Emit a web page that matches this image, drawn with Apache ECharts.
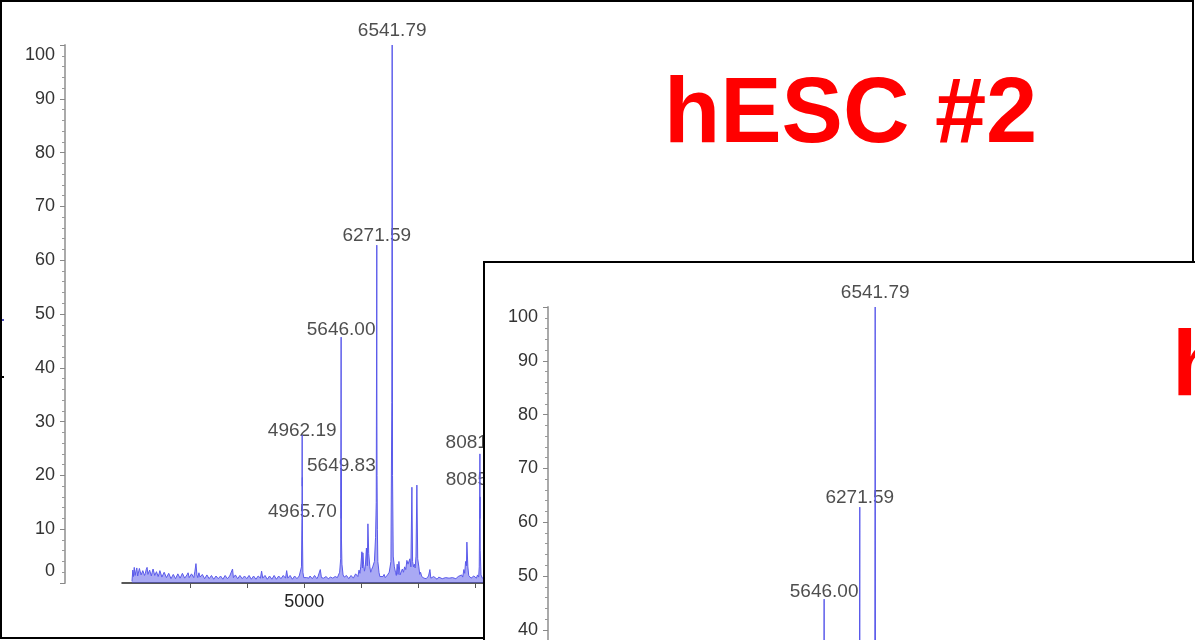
<!DOCTYPE html>
<html><head><meta charset="utf-8">
<script src="https://cdn.jsdelivr.net/npm/echarts@6/dist/echarts.min.js"></script>
<style>html,body{margin:0;padding:0;background:#fff;overflow:hidden}#c{width:1195px;height:640px}</style>
</head><body><div id="c"></div>
<script>
// Mass spectrum profile: [m/z, relative intensity]
const spectrum = [
[1975,0.3],[1990,2.4],[2000,1.2],[2015,2.9],[2030,1.4],[2045,2.2],[2060,2.8],[2075,1.3],[2090,1.6],[2105,2.7],[2120,2.4],[2135,1.5],[2150,1.2],[2165,2.3],[2180,2.6],[2195,1.4],[2210,1.8],[2225,2.5],[2240,2.9],[2255,1.6],
[2270,1.5],[2285,2.4],[2300,2.5],[2315,1.3],[2330,2.0],[2345,2.6],[2360,2.7],[2375,1.4],[2390,1.3],[2405,2.1],[2420,2.2],[2435,1.2],[2450,1.7],[2465,2.3],[2480,2.0],[2500,1.1],[2520,1.2],[2540,2.0],[2560,1.8],[2580,1.0],
[2600,1.0],[2620,1.8],[2640,1.5],[2660,0.8],[2680,0.9],[2700,1.6],[2720,1.4],[2740,0.8],[2760,1.0],[2780,1.7],[2800,1.6],[2820,0.9],[2840,1.1],[2860,1.8],[2880,1.7],[2900,0.9],[2920,1.0],[2940,1.5],[2960,1.9],[2980,1.0],
[3000,1.2],[3020,1.7],[3040,1.6],[3060,1.0],[3080,2.2],[3098,3.6],[3115,1.5],[3130,1.0],[3150,1.9],[3170,1.1],[3190,1.0],[3210,1.6],[3230,1.4],[3250,0.8],[3270,0.9],[3290,1.5],[3310,1.3],[3330,0.8],
[3350,0.8],[3370,1.4],[3390,1.2],[3410,0.7],[3430,0.9],[3450,1.3],[3470,1.5],[3490,0.8],[3510,0.8],[3530,1.3],[3550,1.1],[3570,0.7],[3590,0.9],[3610,1.4],[3630,1.3],[3650,0.8],[3670,0.8],[3690,1.3],[3710,1.2],
[3740,2.6],[3755,1.0],[3770,1.0],[3790,1.5],[3810,1.3],[3830,0.8],[3850,0.8],[3870,1.4],[3890,1.2],[3910,0.8],[3930,1.0],[3950,1.3],[3970,1.6],[3990,0.8],[4010,0.9],[4030,1.4],[4050,1.3],[4070,0.7],[4090,0.8],
[4110,1.3],[4130,1.2],[4150,0.7],[4170,0.9],[4190,1.3],[4210,1.4],[4230,0.9],[4250,2.2],[4270,0.9],[4290,1.0],[4310,1.4],[4330,1.2],[4350,0.7],[4370,0.8],[4390,1.3],[4410,1.1],[4430,0.7],[4450,0.9],[4470,1.4],[4490,1.3],
[4510,0.7],[4530,0.8],[4550,1.3],[4570,1.2],[4590,0.8],[4610,1.0],[4630,1.4],[4650,1.5],[4670,0.9],[4690,2.3],[4710,0.9],[4730,1.0],[4750,1.4],[4770,1.1],[4790,0.7],[4810,0.8],[4830,1.3],[4850,1.2],[4870,0.8],[4890,1.0],
[4910,1.3],[4930,1.5],[4950,3.0],[4958,12],[4962.19,27.5],[4964,18],[4965.7,19.6],[4968,8],[4975,2.0],[4990,1.0],[5000,1.2],[5020,1.3],[5040,1.0],[5060,0.7],
[5080,0.9],[5100,1.3],[5120,1.3],[5140,0.8],[5160,0.8],[5180,1.4],[5200,1.2],[5220,0.8],[5240,1.2],[5260,1.0],[5280,2.5],[5300,1.0],[5320,1.3],[5340,0.9],[5360,0.8],[5380,1.2],[5400,1.3],[5420,0.8],
[5440,1.0],[5460,1.1],[5480,1.4],[5500,0.9],[5520,0.8],[5540,1.2],[5560,1.3],[5580,1.0],[5600,1.2],[5620,2.0],[5638,4.5],[5646,45.7],[5648,12],[5649.83,21],[5652,8],
[5660,3.5],[5680,1.5],[5700,1.1],[5720,1.0],[5740,1.4],[5760,1.2],[5780,0.8],[5800,0.9],[5820,1.4],[5840,1.3],[5860,0.9],[5880,1.1],[5900,1.7],[5920,1.6],[5940,1.2],[5960,2.4],[5975,1.8],[5990,3.0],
[6010,5.8],[6020,2.8],[6028,5.6],[6040,3.5],[6055,2.2],[6070,3.0],[6090,6.5],[6105,3.2],[6116,11],[6130,5.5],[6150,3.0],[6165,2.0],[6180,2.5],[6200,3.0],
[6230,4.0],[6250,8.5],[6262,15],[6271.59,62.8],[6274,31.6],[6276,20],[6282,10],[6290,4.0],[6310,2.0],[6325,1.2],[6340,1.5],[6360,0.9],
[6380,1.2],[6400,1.6],[6420,1.0],[6440,1.2],[6460,1.5],[6490,2.0],[6520,4.0],[6535,33.5],[6541.79,100],[6545,66],[6548,20],[6560,5],
[6580,3.0],[6600,2.0],[6615,1.4],[6630,3.5],[6645,1.6],[6660,4.0],[6680,1.5],[6700,1.5],[6720,2.6],[6740,2.0],[6760,3.0],[6780,2.5],[6800,4.2],[6820,3.5],[6853,4.5],
[6870,3.0],[6888,17.8],[6900,4.0],[6915,3.0],[6930,3.5],[6945,2.8],[6960,5.0],[6975,18.2],[6990,4.5],[7010,3.0],[7025,1.6],[7040,2.0],[7060,1.2],[7080,1.5],
[7100,0.9],[7120,1.2],[7140,0.8],[7160,1.0],[7180,1.3],[7204,2.5],[7220,0.9],[7240,1.0],[7270,1.2],[7300,0.9],[7330,0.7],[7360,1.1],[7390,0.8],[7420,0.8],[7450,1.1],[7480,1.0],[7510,0.7],[7540,0.9],[7570,1.1],[7600,1.0],
[7630,0.7],[7660,0.8],[7680,1.1],[7700,1.2],[7730,0.9],[7760,1.5],[7780,1.1],[7800,2.5],[7815,1.8],[7830,4.0],[7845,3.2],[7853,7.6],[7870,3.0],[7885,1.4],[7900,1.5],[7925,0.9],[7950,1.0],[7975,1.3],[8000,1.2],
[8020,0.9],[8040,1.5],[8060,1.1],[8070,3.0],[8078,15],[8081.51,24],[8083,12],[8085.27,16],[8088,6],[8100,1.5],[8125,0.9],[8150,1.0],[8175,1.3],[8200,1.2],
[8250,0.8],[8300,1.0],[8350,1.2],[8400,0.9]
];
// Peak annotations
const peakNames = ['6541.79','6271.59','5646.00','4962.19','5649.83','4965.70','8081.51','8085.27'];
const peakMz = [6541.79, 6271.59, 5646.00, 4962.19, 5649.83, 4965.70, 8081.51, 8085.27];
const peakLabelY = [102.6, 64.5, 47.0, 28.3, 21.7, 13.2, 26.0, 19.1];
// Axis ticks
const xTickValues = [3000,4000,5000,6000,7000,8000,9000,10000,11000,12000,13000,14000,15000,16000,17000,18000,19000,20000];
const xLabelValues = [5000,10000,15000,20000];
const titles = ['hESC #2', 'hESC #1'];

const FONT = '"Liberation Sans", Arial, Helvetica, sans-serif';
const chart = echarts.init(document.getElementById('c'), null, {renderer:'canvas'});

function yLabelFmt(v){
  if (v === 0) return '{lo|0}';
  if (v === 100) return '{hi|100}';
  return '{n|' + v + '}';
}
const yRich = {
  n:{fontSize:18,color:'#333',fontFamily:FONT},
  lo:{fontSize:18,color:'#333',fontFamily:FONT,padding:[0,0,24,0]},
  hi:{fontSize:18,color:'#333',fontFamily:FONT,padding:[20,0,0,0]}
};

function xAxisCfg(i, zl){
  return {
    type:'value', gridIndex:i, min:1800, max:20000, zlevel:zl,
    axisLine:{show:true, onZero:false, lineStyle:{color:'#222', width:1.5}},
    axisTick:{show:true, customValues:xTickValues, length:5, lineStyle:{color:'#555'}},
    axisLabel:{show:true, customValues:xLabelValues, formatter:(v)=>String(v), fontSize:18, color:'#222', fontFamily:FONT, margin:10},
    splitLine:{show:false}
  };
}
function yAxisCfg(i, zl){
  return {
    type:'value', gridIndex:i, min:0, max:100, interval:10, offset:57, zlevel:zl,
    axisLine:{show:true, lineStyle:{color:'#aaa', width:2}},
    axisTick:{show:true, length:5, lineStyle:{color:'#888'}},
    minorTick:{show:true, splitNumber:5, length:3, lineStyle:{color:'#999'}},
    axisLabel:{formatter:yLabelFmt, rich:yRich, margin:10},
    splitLine:{show:false}
  };
}
function spectrumSeries(i, zl){
  return {
    type:'line', xAxisIndex:i, yAxisIndex:i, zlevel:zl, data:spectrum,
    showSymbol:false, symbol:'none', silent:true,
    lineStyle:{color:'#5a5aea', width:1},
    areaStyle:{color:'rgba(80,80,232,0.7)'}
  };
}
function labelSeries(i, zl){
  return {
    type:'scatter', xAxisIndex:i, yAxisIndex:i, zlevel:zl, clip:false, silent:true,
    symbolSize:1, itemStyle:{color:'rgba(0,0,0,0)'},
    data: peakMz.map((m,k)=>({name:peakNames[k], value:[m, peakLabelY[k]]})),
    label:{show:true, position:'inside', formatter:'{b}', fontSize:19, color:'#222', fontFamily:FONT}
  };
}

chart.setOption({
  animation:false,
  backgroundColor:'#fff',
  grid:[
    {left:122, top:45, width:1037, height:538, zlevel:0, outerBoundsMode:'none', containLabel:false},
    {left:605, top:307, width:1037, height:538, zlevel:2, outerBoundsMode:'none', containLabel:false}
  ],
  xAxis:[xAxisCfg(0,0), xAxisCfg(1,2)],
  yAxis:[yAxisCfg(0,0), yAxisCfg(1,2)],
  series:[spectrumSeries(0,0), labelSeries(0,0), spectrumSeries(1,2), labelSeries(1,2)],
  graphic:{elements:[
    {type:'rect', zlevel:0, z:100, shape:{x:1,y:1,width:1192,height:637}, style:{fill:null, stroke:'#000', lineWidth:2}},
    {type:'line', zlevel:0, shape:{x1:0,y1:320,x2:4,y2:320}, style:{stroke:'#4a4ab8', lineWidth:2}},
    {type:'line', zlevel:0, shape:{x1:0,y1:377,x2:4,y2:377}, style:{stroke:'#000', lineWidth:2}},
    {type:'text', zlevel:0, x:664, y:117, style:{text:titles[0], fill:'#ff0000', font:'bold 92px ' + FONT, align:'left', verticalAlign:'middle'}},
    {type:'rect', zlevel:1, shape:{x:484,y:262,width:800,height:500}, style:{fill:'#fff', stroke:'#000', lineWidth:2}},
    {type:'text', zlevel:2, x:1172, y:370, style:{text:titles[1], fill:'#ff0000', font:'bold 92px ' + FONT, align:'left', verticalAlign:'middle'}}
  ]}
});
</script>
</body></html>
